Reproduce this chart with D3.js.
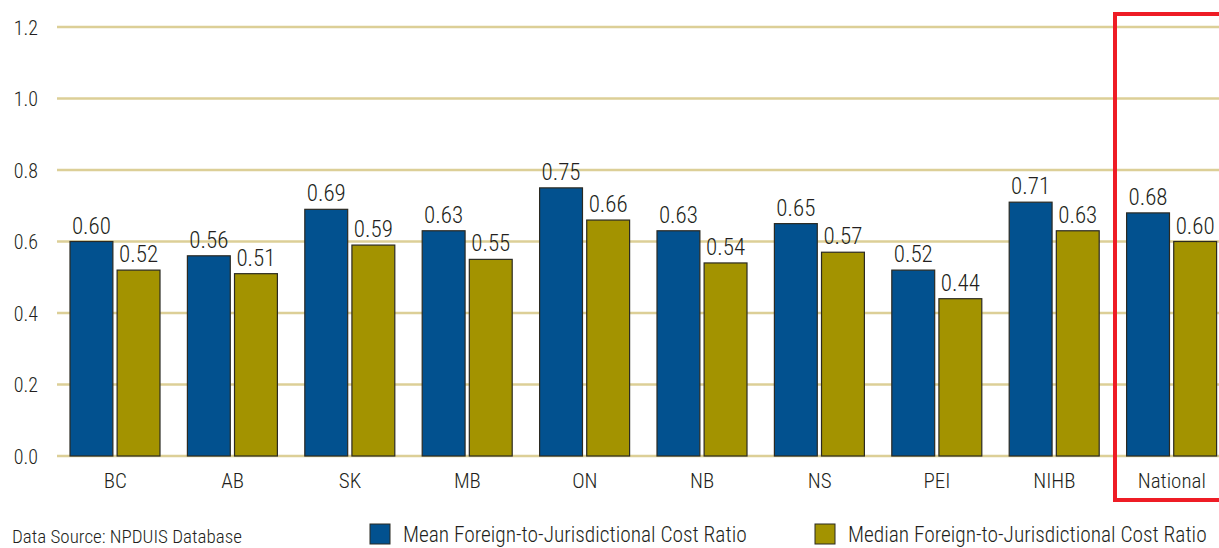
<!DOCTYPE html>
<html><head><meta charset="utf-8">
<script src="https://cdn.jsdelivr.net/npm/d3@7"></script>
<style>
body{margin:0;background:#fff;}
text{font-family:"Roboto Condensed","Roboto",sans-serif;font-weight:350;fill:#231f20;}
</style></head><body>
<svg id="c" width="1219" height="548"></svg>
<script>
const categories = ["BC","AB","SK","MB","ON","NB","NS","PEI","NIHB","National"];
const meanValues = [0.60,0.56,0.69,0.63,0.75,0.63,0.65,0.52,0.71,0.68];
const medianValues = [0.52,0.51,0.59,0.55,0.66,0.54,0.57,0.44,0.63,0.60];
const tickValues = [0.0,0.2,0.4,0.6,0.8,1.0,1.2];
const seriesNames = ["Mean Foreign-to-Jurisdictional Cost Ratio","Median Foreign-to-Jurisdictional Cost Ratio"];
const colors = ["#02518f","#a39300"];

const svg = d3.select("#c");
const y = d3.scaleLinear().domain([0,1.2]).range([456,27]);
const x = d3.scaleBand().domain(categories).range([56.5,1230.5]).paddingInner(0).paddingOuter(0);
const xs = d3.scaleBand().domain([0,1]).range([13.5,103.5]).paddingInner(0.09);

// gridlines
svg.append("g").selectAll("line").data(tickValues).join("line")
  .attr("x1",57).attr("x2",1219).attr("y1",d=>y(d)).attr("y2",d=>y(d))
  .attr("stroke","#dccf97").attr("stroke-width",2.5);

// y axis labels
const yAxis = d3.axisLeft(y).tickValues(tickValues).tickFormat(d3.format(".1f")).tickSize(0).tickPadding(0);
const ya = svg.append("g").attr("transform","translate(38,0)").call(yAxis);
ya.select(".domain").remove();
ya.selectAll("text").attr("font-size",20).attr("dy","0.36em").style("font-family",null).attr("fill",null);

// bars
const series = [meanValues, medianValues];
series.forEach((vals,si)=>{
  const g = svg.append("g");
  g.selectAll("rect").data(categories).join("rect")
    .attr("x",(d)=>x(d)+xs(si)).attr("width",xs.bandwidth())
    .attr("y",(d,i)=>y(vals[i])).attr("height",(d,i)=>y(0)-y(vals[i]))
    .attr("fill",colors[si]).attr("stroke","#2b2a22").attr("stroke-width",1.2);
  g.selectAll("text").data(categories).join("text")
    .attr("x",(d)=>x(d)+xs(si)+xs.bandwidth()/2)
    .attr("y",(d,i)=>y(vals[i])-8)
    .attr("text-anchor","middle").attr("font-size",23)
    .text((d,i)=>d3.format(".2f")(vals[i]));
});

// x axis labels
const xAxis = d3.axisBottom(x).tickSize(0).tickPadding(0);
const xa = svg.append("g").attr("transform","translate(0,488)").call(xAxis);
xa.select(".domain").remove();
xa.selectAll("text").attr("font-size",21).attr("dy","0").style("font-family",null).attr("fill",null);

// red highlight box
svg.append("rect").attr("x",1115).attr("y",14).attr("width",120).attr("height",486)
  .attr("fill","none").attr("stroke","#ee1c25").attr("stroke-width",4);

// source
svg.append("text").attr("x",12).attr("y",543).attr("font-size",19).text("Data Source: NPDUIS Database");

// legend
const legX = [370,815];
seriesNames.forEach((n,i)=>{
  svg.append("rect").attr("x",legX[i]).attr("y",524).attr("width",20).attr("height",20)
    .attr("fill",colors[i]).attr("stroke","#2b2a22").attr("stroke-width",1);
  svg.append("text").attr("x",legX[i]+33).attr("y",542).attr("font-size",21.4).text(n);
});
</script>
</body></html>
